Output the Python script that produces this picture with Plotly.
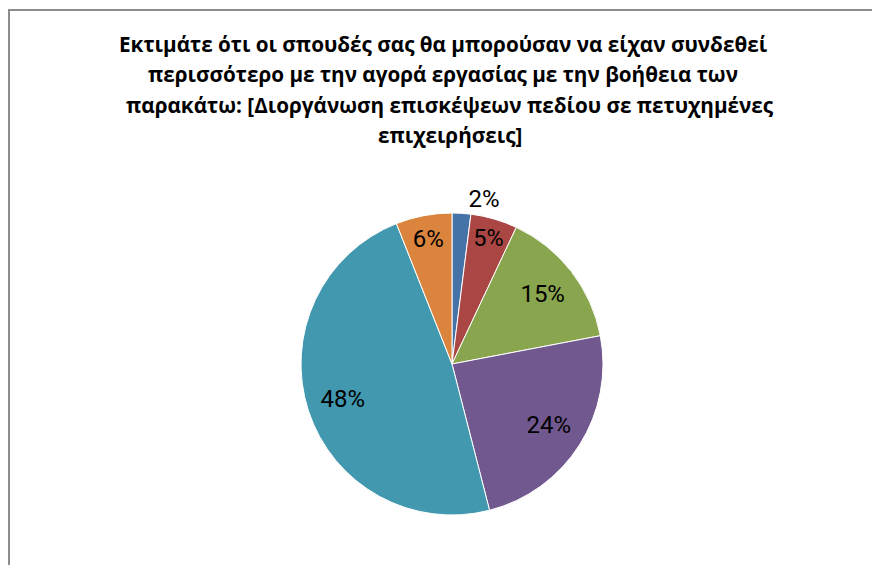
import plotly.graph_objects as go

title_lines = [
    "Εκτιμάτε ότι οι σπουδές σας θα μπορούσαν να είχαν συνδεθεί",
    "περισσότερο με την αγορά εργασίας με την βοήθεια των",
    "παρακάτω: [Διοργάνωση επισκέψεων πεδίου σε πετυχημένες",
    "επιχειρήσεις]",
]
categories = ["A", "B", "C", "D", "E", "F"]
values = [2, 5, 15, 24, 48, 6]
colors = ["#4572A7", "#AA4643", "#89A54E", "#71588F", "#4198AF", "#DB843D"]
text_positions = ["outside", "inside", "inside", "inside", "inside", "inside"]

# page body has an 8px margin, so the figure fills the rest of the window
W, H = 872, 557
cx, cy, r = 444, 356, 151
dom = dict(
    x=[(cx - r) / W, (cx + r) / W],
    y=[1 - (cy + r) / H, 1 - (cy - r) / H],
)

fig = go.Figure()
# coloured pie
fig.add_trace(go.Pie(
    labels=categories, values=values, sort=False, direction="clockwise",
    rotation=0, marker=dict(colors=colors, line=dict(color="white", width=1)),
    textinfo="none", showlegend=False, hoverinfo="skip", domain=dom,
))
# transparent ring that carries the percentage labels
label_font = dict(family="Roboto", size=24, color="black")
fig.add_trace(go.Pie(
    labels=categories, values=values, sort=False, direction="clockwise",
    rotation=0, hole=0.52,
    marker=dict(colors=["rgba(0,0,0,0)"] * len(values), line=dict(width=0)),
    textinfo="percent", texttemplate="%{percent:.0%}",
    textposition=text_positions, insidetextorientation="horizontal",
    textfont=label_font, insidetextfont=label_font, outsidetextfont=label_font,
    showlegend=False, hoverinfo="skip", domain=dom,
))

line_y = [36, 66, 97, 127]
line_x = [435, 435, 442, 442]
for txt, xx, yy in zip(title_lines, line_x, line_y):
    fig.add_annotation(
        text="<b>" + txt + "</b>",
        x=xx / W, y=1 - yy / H, xref="paper", yref="paper",
        xanchor="center", yanchor="middle", showarrow=False,
        font=dict(family="Open Sans", size=20.7, color="black"),
    )

fig.add_shape(
    type="rect", xref="paper", yref="paper",
    x0=1 / W, x1=1.03, y0=-0.03, y1=1 - 2 / H,
    line=dict(color="#8c8c8c", width=2), fillcolor="rgba(0,0,0,0)",
)

fig.update_layout(
    width=W, height=H,
    margin=dict(l=0, r=0, t=0, b=0),
    paper_bgcolor="white", plot_bgcolor="white",
)

fig.write_html("out.html", config={"displayModeBar": False})
